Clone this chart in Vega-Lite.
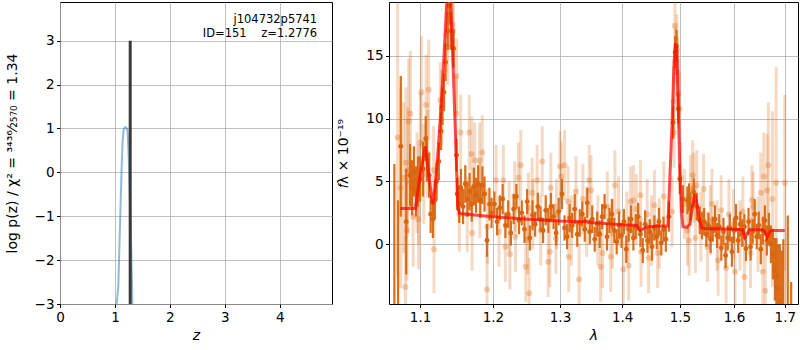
{
  "$schema": "https://vega.github.io/schema/vega-lite/v6.json",
  "padding": {"left": 4, "top": 1, "right": 1, "bottom": 2},
  "spacing": 3,
  "config": {
    "font": "DejaVu Sans",
    "view": {"stroke": "black", "strokeWidth": 1},
    "axis": {"domain": false, "grid": true, "gridColor": "#b0b0b0", "gridWidth": 0.8, "gridOpacity": 1, "tickColor": "black", "tickSize": 3.5, "labelPadding": 2.5, "labelFontSize": 13.5, "labelColor": "black", "labelFlush": false, "labelOverlap": false, "titleFontSize": 14, "titleColor": "black", "titleFontWeight": "normal"},
    "axisX": {"titlePadding": 5},
    "axisY": {"titlePadding": 15}
  },
  "datasets": {
    "pz": [
      {"z": 0.0, "lp": -20}, {"z": 1.0, "lp": -20}, {"z": 1.03, "lp": -3.0}, {"z": 1.06, "lp": -2.62}, {"z": 1.09, "lp": -1.3},
      {"z": 1.122, "lp": 0.12}, {"z": 1.14, "lp": 0.7}, {"z": 1.155, "lp": 0.95}, {"z": 1.175, "lp": 1.02}, {"z": 1.195, "lp": 1.03},
      {"z": 1.215, "lp": 1.0}, {"z": 1.23, "lp": 0.95}, {"z": 1.252, "lp": 0.3}, {"z": 1.272, "lp": -0.65}, {"z": 1.297, "lp": -1.8},
      {"z": 1.318, "lp": -3.0}, {"z": 1.34, "lp": -20}, {"z": 5.0, "lp": -20}
    ],
    "zbest": [{"z": 1.2776, "lo": -3, "hi": 3}],
    "ann": [
      {"x": 4.68, "y": 3.48, "t": "j104732p5741"},
      {"x": 4.68, "y": 3.14, "t": "ID=151\u00a0\u00a0\u00a0\u00a0z=1.2776"}
    ],
    "model": [
      {"l": 1.0745, "f": 2.85}, {"l": 1.0939, "f": 2.85}, {"l": 1.1004, "f": 5.6}, {"l": 1.107, "f": 7.8}, {"l": 1.1114, "f": 5.6},
      {"l": 1.1167, "f": 3.2}, {"l": 1.120, "f": 4.5}, {"l": 1.124, "f": 7.5}, {"l": 1.127, "f": 10.1}, {"l": 1.131, "f": 14.0},
      {"l": 1.135, "f": 18.5}, {"l": 1.138, "f": 21.0}, {"l": 1.141, "f": 19.6}, {"l": 1.1428, "f": 16.7}, {"l": 1.1475, "f": 8.8},
      {"l": 1.1506, "f": 3.0}, {"l": 1.153, "f": 2.45}, {"l": 1.2, "f": 2.2}, {"l": 1.25, "f": 2.0}, {"l": 1.3, "f": 1.85},
      {"l": 1.335, "f": 1.8}, {"l": 1.34, "f": 1.85}, {"l": 1.345, "f": 1.75}, {"l": 1.4, "f": 1.55}, {"l": 1.425, "f": 1.5},
      {"l": 1.4295, "f": 1.1}, {"l": 1.433, "f": 1.15}, {"l": 1.44, "f": 1.35}, {"l": 1.46, "f": 1.45}, {"l": 1.4785, "f": 1.45},
      {"l": 1.4805, "f": 3.5}, {"l": 1.486, "f": 9.6}, {"l": 1.4895, "f": 14.5}, {"l": 1.492, "f": 16.0}, {"l": 1.4945, "f": 15.5},
      {"l": 1.497, "f": 11.4}, {"l": 1.4997, "f": 6.1}, {"l": 1.503, "f": 2.5}, {"l": 1.5055, "f": 1.4}, {"l": 1.513, "f": 1.35},
      {"l": 1.518, "f": 1.6}, {"l": 1.522, "f": 2.8}, {"l": 1.527, "f": 4.0}, {"l": 1.531, "f": 3.2}, {"l": 1.535, "f": 2.0},
      {"l": 1.54, "f": 1.3}, {"l": 1.545, "f": 1.25}, {"l": 1.6, "f": 1.2}, {"l": 1.617, "f": 1.15}, {"l": 1.621, "f": 0.55},
      {"l": 1.626, "f": 0.9}, {"l": 1.63, "f": 1.15}, {"l": 1.655, "f": 1.15}, {"l": 1.66, "f": 1.0}, {"l": 1.6645, "f": 0.55},
      {"l": 1.669, "f": 0.95}, {"l": 1.673, "f": 1.1}, {"l": 1.70, "f": 1.1}
    ],
    "dark": [
      {"l": 1.0668, "f": -6, "e": 12.4}, {"l": 1.0715, "f": -5, "e": 8.5}, {"l": 1.075, "f": 7.8, "e": 5.6}, {"l": 1.082, "f": 1.8, "e": 4.2},
      {"l": 1.087, "f": 5.5, "e": 2.5}, {"l": 1.0895, "f": 4.5, "e": 2.2}, {"l": 1.092, "f": 5.8, "e": 2.0}, {"l": 1.0947, "f": 4.2, "e": 2.0},
      {"l": 1.0974, "f": 5.0, "e": 2.0}, {"l": 1.100, "f": 5.2, "e": 1.8}, {"l": 1.104, "f": 6.0, "e": 2.2}, {"l": 1.1075, "f": 8.4, "e": 1.8},
      {"l": 1.109, "f": 6.8, "e": 1.8}, {"l": 1.112, "f": 5.5, "e": 1.8}, {"l": 1.114, "f": 2.4, "e": 1.5}, {"l": 1.117, "f": 2.0, "e": 1.5},
      {"l": 1.1196, "f": 3.5, "e": 1.5}, {"l": 1.122, "f": 5.0, "e": 1.5}, {"l": 1.125, "f": 6.6, "e": 1.5}, {"l": 1.128, "f": 9.0, "e": 1.5},
      {"l": 1.130, "f": 11.0, "e": 1.5}, {"l": 1.132, "f": 12.1, "e": 1.5}, {"l": 1.134, "f": 14.5, "e": 1.5}, {"l": 1.137, "f": 17.0, "e": 1.5},
      {"l": 1.139, "f": 19.0, "e": 1.5}, {"l": 1.141, "f": 17.0, "e": 1.5}, {"l": 1.145, "f": 15.6, "e": 1.5}, {"l": 1.1489, "f": 7.1, "e": 1.3},
      {"l": 1.150, "f": 4.0, "e": 1.3}, {"l": 1.1526, "f": 3.2, "e": 1.5}, {"l": 1.155, "f": 4.5, "e": 1.5}, {"l": 1.158, "f": 3.0, "e": 1.4},
      {"l": 1.161, "f": 4.8, "e": 1.5}, {"l": 1.164, "f": 3.6, "e": 1.4}, {"l": 1.167, "f": 4.2, "e": 1.5}, {"l": 1.170, "f": 3.2, "e": 1.4},
      {"l": 1.173, "f": 4.6, "e": 1.5}, {"l": 1.176, "f": 3.9, "e": 1.4}, {"l": 1.179, "f": 4.8, "e": 1.5}, {"l": 1.182, "f": 3.5, "e": 1.4},
      {"l": 1.185, "f": 4.7, "e": 1.5}, {"l": 1.188, "f": 4.0, "e": 1.4}, {"l": 1.1915, "f": 0.3, "e": 1.3}, {"l": 1.195, "f": 3.2, "e": 1.3},
      {"l": 1.198, "f": 2.5, "e": 1.2}, {"l": 1.202, "f": 3.2, "e": 1.0}, {"l": 1.206, "f": 1.8, "e": 1.1}, {"l": 1.210, "f": 2.9, "e": 1.0},
      {"l": 1.214, "f": 3.6, "e": 1.2}, {"l": 1.218, "f": 1.5, "e": 1.0}, {"l": 1.222, "f": 2.4, "e": 1.1}, {"l": 1.226, "f": 0.9, "e": 1.0},
      {"l": 1.230, "f": 2.8, "e": 1.2}, {"l": 1.234, "f": 3.8, "e": 1.0}, {"l": 1.238, "f": 1.9, "e": 1.1}, {"l": 1.242, "f": 2.5, "e": 1.0},
      {"l": 1.246, "f": 1.2, "e": 1.1}, {"l": 1.250, "f": 3.4, "e": 1.0}, {"l": 1.254, "f": 0.5, "e": 1.0}, {"l": 1.258, "f": 2.3, "e": 1.2},
      {"l": 1.262, "f": 1.6, "e": 1.0}, {"l": 1.266, "f": 3.0, "e": 1.1}, {"l": 1.270, "f": 2.0, "e": 1.0}, {"l": 1.274, "f": 1.1, "e": 1.0},
      {"l": 1.278, "f": 2.7, "e": 1.2}, {"l": 1.282, "f": 1.9, "e": 1.0}, {"l": 1.286, "f": 3.0, "e": 1.1}, {"l": 1.290, "f": 2.2, "e": 1.0},
      {"l": 1.294, "f": 0.9, "e": 1.0}, {"l": 1.298, "f": 2.6, "e": 1.1}, {"l": 1.303, "f": 4.0, "e": 1.2}, {"l": 1.307, "f": 1.3, "e": 1.0},
      {"l": 1.311, "f": 0.6, "e": 1.0}, {"l": 1.315, "f": 2.1, "e": 1.1}, {"l": 1.319, "f": 1.5, "e": 1.0}, {"l": 1.323, "f": 2.8, "e": 1.2},
      {"l": 1.327, "f": 0.8, "e": 1.0}, {"l": 1.331, "f": 1.7, "e": 1.1}, {"l": 1.335, "f": 2.4, "e": 1.0}, {"l": 1.339, "f": 1.2, "e": 1.0},
      {"l": 1.343, "f": 3.3, "e": 1.2}, {"l": 1.347, "f": 1.0, "e": 1.0}, {"l": 1.351, "f": 2.0, "e": 1.1}, {"l": 1.355, "f": 0.4, "e": 1.0},
      {"l": 1.359, "f": 1.6, "e": 1.0}, {"l": 1.363, "f": 0.8, "e": 1.1}, {"l": 1.367, "f": 2.2, "e": 1.0}, {"l": 1.371, "f": 3.0, "e": 1.0},
      {"l": 1.375, "f": 0.6, "e": 1.1}, {"l": 1.379, "f": 1.9, "e": 1.0}, {"l": 1.383, "f": 2.4, "e": 1.2}, {"l": 1.387, "f": 1.1, "e": 1.0},
      {"l": 1.391, "f": 0.2, "e": 1.0}, {"l": 1.395, "f": 1.5, "e": 1.1}, {"l": 1.399, "f": 0.7, "e": 1.0}, {"l": 1.403, "f": 1.8, "e": 1.0},
      {"l": 1.407, "f": -0.4, "e": 1.1}, {"l": 1.411, "f": 1.2, "e": 1.0}, {"l": 1.415, "f": 2.0, "e": 1.1}, {"l": 1.419, "f": 0.5, "e": 1.0},
      {"l": 1.423, "f": 1.4, "e": 1.0}, {"l": 1.427, "f": 2.2, "e": 1.1}, {"l": 1.431, "f": 0.8, "e": 1.0}, {"l": 1.435, "f": -0.5, "e": 1.0},
      {"l": 1.439, "f": 1.6, "e": 1.1}, {"l": 1.443, "f": 0.3, "e": 1.0}, {"l": 1.447, "f": 1.0, "e": 1.0}, {"l": 1.451, "f": -0.2, "e": 1.1},
      {"l": 1.455, "f": 1.3, "e": 1.0}, {"l": 1.459, "f": 0.6, "e": 1.0}, {"l": 1.463, "f": 1.8, "e": 1.1}, {"l": 1.467, "f": 0.1, "e": 1.0},
      {"l": 1.471, "f": 1.2, "e": 1.0}, {"l": 1.475, "f": 0.4, "e": 1.0}, {"l": 1.4805, "f": 2.2, "e": 1.2}, {"l": 1.488, "f": 9.7, "e": 1.3},
      {"l": 1.4915, "f": 15.3, "e": 1.3}, {"l": 1.494, "f": 15.8, "e": 1.3}, {"l": 1.497, "f": 10.8, "e": 1.2}, {"l": 1.4997, "f": 5.2, "e": 1.2},
      {"l": 1.5055, "f": 3.6, "e": 1.1}, {"l": 1.5135, "f": 3.5, "e": 1.1}, {"l": 1.5165, "f": 3.75, "e": 1.1}, {"l": 1.519, "f": 3.0, "e": 1.1},
      {"l": 1.525, "f": 4.15, "e": 1.1}, {"l": 1.5305, "f": 3.0, "e": 1.1}, {"l": 1.536, "f": 1.9, "e": 1.1}, {"l": 1.540, "f": 1.5, "e": 1.1},
      {"l": 1.544, "f": 1.8, "e": 1.1}, {"l": 1.548, "f": 0.8, "e": 1.0}, {"l": 1.552, "f": 1.5, "e": 1.0}, {"l": 1.556, "f": 0.4, "e": 1.1},
      {"l": 1.560, "f": 1.2, "e": 1.0}, {"l": 1.564, "f": 2.0, "e": 1.1}, {"l": 1.568, "f": 0.7, "e": 1.0}, {"l": 1.572, "f": 1.4, "e": 1.0},
      {"l": 1.576, "f": -0.3, "e": 1.0}, {"l": 1.580, "f": 1.0, "e": 1.1}, {"l": 1.584, "f": -0.9, "e": 1.0}, {"l": 1.588, "f": 0.5, "e": 1.0},
      {"l": 1.592, "f": 1.3, "e": 1.1}, {"l": 1.596, "f": -0.6, "e": 1.2}, {"l": 1.600, "f": 1.1, "e": 1.0}, {"l": 1.604, "f": 2.1, "e": 1.1},
      {"l": 1.608, "f": 0.3, "e": 1.0}, {"l": 1.612, "f": 1.6, "e": 1.0}, {"l": 1.616, "f": 0.9, "e": 1.1}, {"l": 1.620, "f": 1.4, "e": 1.0},
      {"l": 1.623, "f": -0.35, "e": 1.0}, {"l": 1.628, "f": 1.8, "e": 1.1}, {"l": 1.632, "f": -0.2, "e": 1.1}, {"l": 1.636, "f": 1.0, "e": 1.0},
      {"l": 1.640, "f": 2.4, "e": 1.2}, {"l": 1.644, "f": 0.6, "e": 1.0}, {"l": 1.648, "f": 1.5, "e": 1.1}, {"l": 1.652, "f": -0.4, "e": 1.2},
      {"l": 1.656, "f": 1.1, "e": 1.1}, {"l": 1.660, "f": 1.9, "e": 1.2}, {"l": 1.664, "f": 0.3, "e": 1.2}, {"l": 1.668, "f": 1.2, "e": 1.3},
      {"l": 1.672, "f": 0.0, "e": 1.5}, {"l": 1.676, "f": -0.8, "e": 2.0}, {"l": 1.680, "f": -2.0, "e": 2.5}, {"l": 1.683, "f": -2.5, "e": 3.0},
      {"l": 1.686, "f": -3.5, "e": 3.5}, {"l": 1.690, "f": -4.5, "e": 4.5}, {"l": 1.694, "f": -6, "e": 5.5}, {"l": 1.697, "f": -6, "e": 6.4},
      {"l": 1.706, "f": -8, "e": 10.3}, {"l": 1.713, "f": -10, "e": 7}
    ],
    "light": [
      {"l": 1.071, "f": 8.5, "e": 11}, {"l": 1.075, "f": 4.5, "e": 8}, {"l": 1.0787, "f": 5.3, "e": 6}, {"l": 1.0817, "f": 6.5, "e": 6},
      {"l": 1.081, "f": -3.4, "e": 4}, {"l": 1.083, "f": 1.1, "e": 4}, {"l": 1.084, "f": 5.9, "e": 5}, {"l": 1.0852, "f": 9.8, "e": 5},
      {"l": 1.0874, "f": 10.4, "e": 5}, {"l": 1.091, "f": 2.2, "e": 4}, {"l": 1.096, "f": 4.9, "e": 4}, {"l": 1.098, "f": 2.0, "e": 4},
      {"l": 1.0983, "f": 4.0, "e": 4}, {"l": 1.1004, "f": 8.1, "e": 4}, {"l": 1.1017, "f": 12.1, "e": 4.5}, {"l": 1.105, "f": 5.6, "e": 4},
      {"l": 1.108, "f": 11.1, "e": 4}, {"l": 1.110, "f": 7.2, "e": 3.5}, {"l": 1.1114, "f": 12.3, "e": 4}, {"l": 1.118, "f": 5.9, "e": 3.5},
      {"l": 1.1185, "f": -0.4, "e": 3.5}, {"l": 1.127, "f": 11.5, "e": 3}, {"l": 1.129, "f": 10.9, "e": 3}, {"l": 1.135, "f": 16.7, "e": 3},
      {"l": 1.137, "f": 15.7, "e": 3}, {"l": 1.1437, "f": 17.5, "e": 3}, {"l": 1.1445, "f": 17.0, "e": 3}, {"l": 1.1484, "f": 10.4, "e": 3},
      {"l": 1.149, "f": 13.4, "e": 3}, {"l": 1.1527, "f": 2.4, "e": 3}, {"l": 1.1546, "f": 8.9, "e": 3}, {"l": 1.1637, "f": 2.4, "e": 3},
      {"l": 1.1666, "f": 8.9, "e": 3}, {"l": 1.170, "f": 7.2, "e": 3}, {"l": 1.1705, "f": 0.9, "e": 3}, {"l": 1.1742, "f": 6.7, "e": 3},
      {"l": 1.181, "f": 6.7, "e": 3}, {"l": 1.1815, "f": 3.5, "e": 3}, {"l": 1.1847, "f": 7.3, "e": 3}, {"l": 1.1915, "f": -3.6, "e": 3},
      {"l": 1.192, "f": 1.4, "e": 3}, {"l": 1.2044, "f": 5.1, "e": 2.8}, {"l": 1.2087, "f": 1.0, "e": 2.8}, {"l": 1.215, "f": 5.1, "e": 2.8},
      {"l": 1.2179, "f": -0.2, "e": 2.8}, {"l": 1.2235, "f": 2.2, "e": 2.8}, {"l": 1.2245, "f": -0.8, "e": 2.8}, {"l": 1.2315, "f": 3.8, "e": 2.8},
      {"l": 1.2327, "f": 0.6, "e": 2.8}, {"l": 1.237, "f": 5.3, "e": 2.8}, {"l": 1.2404, "f": 6.3, "e": 2.8}, {"l": 1.248, "f": -1.8, "e": 2.8},
      {"l": 1.2505, "f": 0.4, "e": 2.8}, {"l": 1.252, "f": 2.9, "e": 2.8}, {"l": 1.253, "f": -3.9, "e": 2.8}, {"l": 1.2575, "f": 4.1, "e": 2.8},
      {"l": 1.2585, "f": 2.4, "e": 2.8}, {"l": 1.265, "f": 5.1, "e": 2.8}, {"l": 1.2703, "f": 1.1, "e": 2.8}, {"l": 1.2727, "f": 6.6, "e": 2.8},
      {"l": 1.2818, "f": -1.4, "e": 2.8}, {"l": 1.2843, "f": -0.6, "e": 2.8}, {"l": 1.2858, "f": 4.5, "e": 2.8}, {"l": 1.2936, "f": 0.45, "e": 2.8},
      {"l": 1.2945, "f": 2.4, "e": 2.8}, {"l": 1.300, "f": 6.2, "e": 2.8}, {"l": 1.302, "f": 5.4, "e": 2.8}, {"l": 1.307, "f": 6.3, "e": 2.8},
      {"l": 1.3126, "f": 3.4, "e": 2.8}, {"l": 1.3136, "f": -1.0, "e": 2.8}, {"l": 1.3178, "f": 1.1, "e": 2.8}, {"l": 1.325, "f": 4.2, "e": 2.8},
      {"l": 1.33, "f": -2.8, "e": 2.8}, {"l": 1.336, "f": 3.6, "e": 2.8}, {"l": 1.342, "f": 1.8, "e": 2.8}, {"l": 1.346, "f": 5.1, "e": 2.8},
      {"l": 1.349, "f": 4.3, "e": 2.8}, {"l": 1.36, "f": 1.1, "e": 2.8}, {"l": 1.3645, "f": -1.8, "e": 2.8}, {"l": 1.3677, "f": -0.7, "e": 2.8},
      {"l": 1.3755, "f": 3.0, "e": 2.8}, {"l": 1.381, "f": -1.0, "e": 2.8}, {"l": 1.384, "f": 0.85, "e": 2.8}, {"l": 1.388, "f": 4.7, "e": 2.8},
      {"l": 1.394, "f": 2.6, "e": 2.8}, {"l": 1.402, "f": -2.0, "e": 2.8}, {"l": 1.408, "f": 1.4, "e": 2.8}, {"l": 1.411, "f": -1.7, "e": 2.8},
      {"l": 1.4143, "f": 3.4, "e": 2.8}, {"l": 1.419, "f": 3.5, "e": 2.8}, {"l": 1.424, "f": 2.8, "e": 2.8}, {"l": 1.431, "f": 3.9, "e": 2.8},
      {"l": 1.432, "f": -0.6, "e": 2.8}, {"l": 1.4425, "f": 2.4, "e": 2.8}, {"l": 1.445, "f": -1.1, "e": 2.8}, {"l": 1.45, "f": 1.1, "e": 2.8},
      {"l": 1.455, "f": 3.1, "e": 2.8}, {"l": 1.4606, "f": -0.7, "e": 2.8}, {"l": 1.4634, "f": 0.85, "e": 2.8}, {"l": 1.4714, "f": 3.8, "e": 2.8},
      {"l": 1.486, "f": 2.6, "e": 2.8}, {"l": 1.4885, "f": 11.4, "e": 2.8}, {"l": 1.4895, "f": 8.9, "e": 2.8}, {"l": 1.491, "f": 17.4, "e": 2.8},
      {"l": 1.4922, "f": 14.5, "e": 2.8}, {"l": 1.4945, "f": 15.5, "e": 2.8}, {"l": 1.496, "f": 13.7, "e": 2.8}, {"l": 1.497, "f": 12.0, "e": 2.8},
      {"l": 1.4997, "f": 10.8, "e": 2.8}, {"l": 1.5015, "f": 5.3, "e": 2.8}, {"l": 1.508, "f": 3.2, "e": 2.8}, {"l": 1.5135, "f": 1.1, "e": 2.8},
      {"l": 1.5165, "f": 0.3, "e": 2.8}, {"l": 1.519, "f": 4.3, "e": 2.8}, {"l": 1.523, "f": 5.5, "e": 2.8}, {"l": 1.525, "f": 4.5, "e": 2.8},
      {"l": 1.528, "f": 0.5, "e": 2.8}, {"l": 1.5305, "f": 4.7, "e": 2.8}, {"l": 1.538, "f": 1.4, "e": 2.8}, {"l": 1.543, "f": 4.4, "e": 2.8},
      {"l": 1.550, "f": -0.2, "e": 2.8}, {"l": 1.5555, "f": 1.9, "e": 2.8}, {"l": 1.5585, "f": 3.2, "e": 2.8}, {"l": 1.568, "f": 0.7, "e": 2.8},
      {"l": 1.570, "f": -1.3, "e": 2.8}, {"l": 1.5757, "f": 2.7, "e": 2.8}, {"l": 1.585, "f": -1.9, "e": 2.8}, {"l": 1.5903, "f": 2.4, "e": 2.8},
      {"l": 1.599, "f": 1.6, "e": 2.8}, {"l": 1.602, "f": -2.2, "e": 2.8}, {"l": 1.6115, "f": 0.7, "e": 2.8}, {"l": 1.617, "f": 2.6, "e": 2.8},
      {"l": 1.620, "f": -2.6, "e": 2.8}, {"l": 1.632, "f": -0.7, "e": 2.8}, {"l": 1.6345, "f": 3.5, "e": 2.8}, {"l": 1.637, "f": 3.0, "e": 2.8},
      {"l": 1.6465, "f": 0.8, "e": 3.0}, {"l": 1.652, "f": 4.1, "e": 3.2}, {"l": 1.656, "f": -2.2, "e": 3.5}, {"l": 1.658, "f": 5.4, "e": 3.5},
      {"l": 1.661, "f": -3.7, "e": 4}, {"l": 1.6645, "f": 4.3, "e": 4.5}, {"l": 1.667, "f": 6.3, "e": 5}, {"l": 1.675, "f": 3.6, "e": 7},
      {"l": 1.6825, "f": 4.9, "e": 9.2}, {"l": 1.70, "f": 4.9, "e": 7}
    ]
  },
  "hconcat": [
    {
      "width": 272,
      "height": 302,
      "layer": [
        {
          "data": {"name": "pz"},
          "mark": {"type": "line", "color": "#1f77b4", "opacity": 0.5, "strokeWidth": 2, "clip": true},
          "encoding": {
            "x": {"field": "z", "type": "quantitative", "title": "z", "scale": {"domain": [0, 4.95], "nice": false, "zero": false}, "axis": {"values": [0, 1, 2, 3, 4], "format": "d", "titleFontStyle": "italic"}},
            "y": {"field": "lp", "type": "quantitative", "title": "log p(z) / χ² = ³⁴³⁶⁄₂₅₇₀ = 1.34", "scale": {"domain": [-3, 3.88], "nice": false, "zero": false}, "axis": {"values": [-3, -2, -1, 0, 1, 2, 3], "format": "d"}}
          }
        },
        {
          "data": {"name": "zbest"},
          "mark": {"type": "rule", "color": "#3a3a3a", "strokeWidth": 3},
          "encoding": {
            "x": {"field": "z", "type": "quantitative", "title": "z", "scale": {"domain": [0, 4.95], "nice": false, "zero": false}},
            "y": {"field": "lo", "type": "quantitative", "title": "log p(z) / χ² = ³⁴³⁶⁄₂₅₇₀ = 1.34", "scale": {"domain": [-3, 3.88], "nice": false, "zero": false}},
            "y2": {"field": "hi"}
          }
        },
        {
          "data": {"name": "ann"},
          "mark": {"type": "text", "align": "right", "baseline": "middle", "fontSize": 11.5, "color": "black"},
          "encoding": {
            "x": {"field": "x", "type": "quantitative", "title": "z", "scale": {"domain": [0, 4.95], "nice": false, "zero": false}},
            "y": {"field": "y", "type": "quantitative", "title": "log p(z) / χ² = ³⁴³⁶⁄₂₅₇₀ = 1.34", "scale": {"domain": [-3, 3.88], "nice": false, "zero": false}},
            "text": {"field": "t"}
          }
        }
      ]
    },
    {
      "width": 409,
      "height": 302,
      "layer": [
        {
          "data": {"name": "light"},
          "mark": {"type": "errorbar", "color": "#d9660f", "opacity": 0.25, "thickness": 3, "clip": true},
          "encoding": {
            "x": {"field": "l", "type": "quantitative", "title": "λ", "scale": {"type": "log", "domain": [1.06, 1.727], "nice": false}, "axis": {"values": [1.1, 1.2, 1.3, 1.4, 1.5, 1.6, 1.7], "format": ".1f", "titleFontStyle": "italic"}},
            "y": {"field": "f", "type": "quantitative", "title": "𝑓λ × 10⁻¹⁹", "scale": {"domain": [-4.76, 19.3], "nice": false, "zero": false}, "axis": {"values": [0, 5, 10, 15], "format": "d"}},
            "yError": {"field": "e"}
          }
        },
        {
          "data": {"name": "light"},
          "mark": {"type": "point", "filled": true, "color": "#d9660f", "opacity": 0.3, "size": 36, "clip": true},
          "encoding": {
            "x": {"field": "l", "type": "quantitative", "title": "λ", "scale": {"type": "log", "domain": [1.06, 1.727], "nice": false}},
            "y": {"field": "f", "type": "quantitative", "title": "𝑓λ × 10⁻¹⁹", "scale": {"domain": [-4.76, 19.3], "nice": false, "zero": false}}
          }
        },
        {
          "data": {"name": "dark"},
          "mark": {"type": "errorbar", "color": "#d9660f", "opacity": 0.95, "thickness": 2.2, "clip": true},
          "encoding": {
            "x": {"field": "l", "type": "quantitative", "title": "λ", "scale": {"type": "log", "domain": [1.06, 1.727], "nice": false}},
            "y": {"field": "f", "type": "quantitative", "title": "𝑓λ × 10⁻¹⁹", "scale": {"domain": [-4.76, 19.3], "nice": false, "zero": false}},
            "yError": {"field": "e"}
          }
        },
        {
          "data": {"name": "dark"},
          "mark": {"type": "point", "filled": true, "color": "#d9660f", "opacity": 1, "size": 24, "clip": true},
          "encoding": {
            "x": {"field": "l", "type": "quantitative", "title": "λ", "scale": {"type": "log", "domain": [1.06, 1.727], "nice": false}},
            "y": {"field": "f", "type": "quantitative", "title": "𝑓λ × 10⁻¹⁹", "scale": {"domain": [-4.76, 19.3], "nice": false, "zero": false}}
          }
        },
        {
          "data": {"name": "model"},
          "mark": {"type": "line", "color": "red", "opacity": 0.7, "strokeWidth": 3, "clip": true},
          "encoding": {
            "x": {"field": "l", "type": "quantitative", "title": "λ", "scale": {"type": "log", "domain": [1.06, 1.727], "nice": false}},
            "y": {"field": "f", "type": "quantitative", "title": "𝑓λ × 10⁻¹⁹", "scale": {"domain": [-4.76, 19.3], "nice": false, "zero": false}}
          }
        },
        {
          "mark": {"type": "rule", "color": "black", "strokeWidth": 1.5, "strokeDash": [1.5, 2.5]},
          "encoding": {
            "y": {"datum": 0, "type": "quantitative", "title": "𝑓λ × 10⁻¹⁹", "scale": {"domain": [-4.76, 19.3], "nice": false, "zero": false}}
          }
        },
        {
          "mark": {"type": "text", "align": "right", "baseline": "middle", "fontSize": 6.5, "color": "black", "clip": false},
          "encoding": {
            "x": {"datum": 1.70, "type": "quantitative", "title": "λ", "scale": {"type": "log", "domain": [1.06, 1.727], "nice": false}},
            "y": {"datum": -7.5, "type": "quantitative", "title": "𝑓λ × 10⁻¹⁹", "scale": {"domain": [-4.76, 19.3], "nice": false, "zero": false}},
            "text": {"value": "Fri Apr 24 11:16:13 2020"}
          }
        }
      ]
    }
  ]
}
